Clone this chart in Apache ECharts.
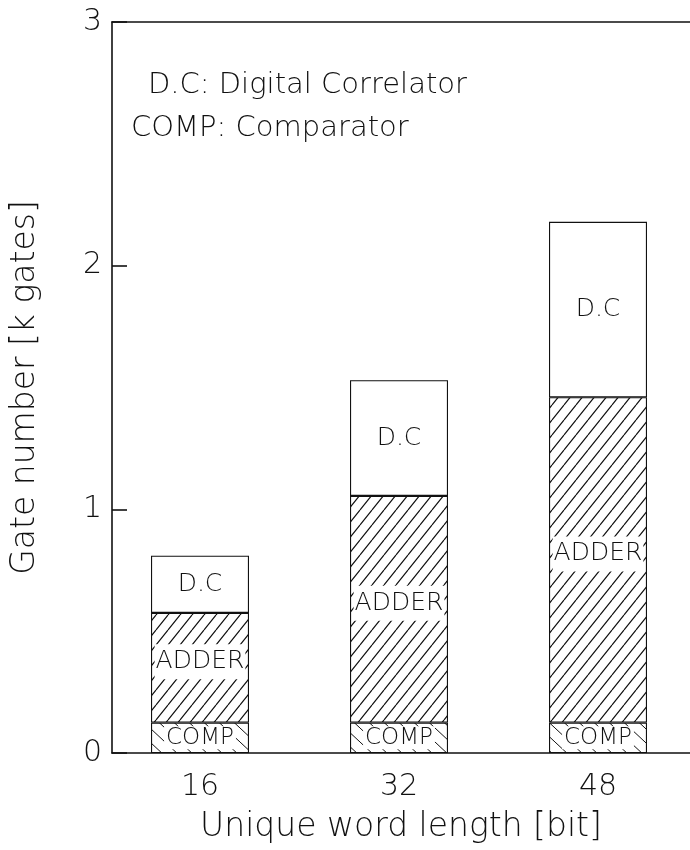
<!DOCTYPE html>
<html><head><meta charset="utf-8">
<script src="https://cdn.jsdelivr.net/npm/echarts@6/dist/echarts.min.js"></script>
<style>html,body{margin:0;padding:0;background:#fff}#c{width:690px;height:850px}</style>
</head><body><div id="c"></div>
<script>
const categories = ['16', '32', '48'];
const compValues = [0.125, 0.125, 0.125];
const adderValues = [0.45, 0.93, 1.335];
const dcValues = [0.235, 0.475, 0.72];
const yMin = 0, yMax = 3, yStep = 1;
const legendLine1 = 'D.C: Digital Correlator';
const legendLine2 = 'COMP: Comparator';
const segNames = ['COMP', 'ADDER', 'D.C'];
const xAxisName = 'Unique word length [bit]';
const yAxisName = 'Gate number [k gates]';

const FONT = "'DejaVu Sans', sans-serif";
const FW = 200;
const INK = '#111111';

function hatch(w, h, forward, lw) {
  const c = document.createElement('canvas');
  c.width = w; c.height = h;
  const g = c.getContext('2d');
  g.fillStyle = '#fff'; g.fillRect(0, 0, w, h);
  g.strokeStyle = INK; g.lineWidth = lw;
  g.beginPath();
  for (let k = -1; k <= 1; k++) {
    if (forward) { g.moveTo(k * w, h); g.lineTo(k * w + w, 0); }
    else { g.moveTo(k * w, 0); g.lineTo(k * w + w, h); }
  }
  g.stroke();
  return c;
}
const adderPattern = { image: hatch(12, 15, true, 1.2), repeat: 'repeat' };
const compPattern = { image: hatch(15, 14, false, 1.0), repeat: 'repeat' };

const labelBase = { show: true, position: 'inside', fontFamily: FONT, fontWeight: FW, fontSize: 25, color: INK };
function barSeries(name, data, fill, extraLabel) {
  return {
    type: 'bar', name: name, stack: 'gates', data: data, barWidth: 98,
    xAxisIndex: 0, yAxisIndex: 0,
    itemStyle: { color: fill, borderColor: INK, borderWidth: 1.1 },
    emphasis: { disabled: true },
    label: Object.assign({}, labelBase, { formatter: name }, extraLabel || {})
  };
}

const chart = echarts.init(document.getElementById('c'), null, { renderer: 'canvas' });
chart.setOption({
  animation: false,
  backgroundColor: '#fff',
  title: [
    { text: legendLine1, left: 143, top: 66, textStyle: { fontFamily: FONT, fontSize: 29, fontWeight: FW, color: INK } },
    { text: legendLine2, left: 126, top: 109, textStyle: { fontFamily: FONT, fontSize: 29, fontWeight: FW, color: INK } }
  ],
  grid: [
    { left: 100.5, width: 597, top: 22, bottom: 97, outerBoundsMode: 'none' },
    { left: 112, right: 0, top: 22, bottom: 97, outerBoundsMode: 'none' }
  ],
  xAxis: [{
    type: 'category', gridIndex: 0, data: categories,
    axisLine: { show: false }, axisTick: { show: false }, splitLine: { show: false },
    axisLabel: { fontFamily: FONT, fontWeight: FW, fontSize: 30, color: INK, margin: 19 }
  }, {
    type: 'value', gridIndex: 1, min: 0, max: 1, position: 'bottom',
    name: xAxisName, nameLocation: 'middle', nameGap: 58,
    nameTextStyle: { fontFamily: FONT, fontWeight: FW, fontSize: 33, color: INK },
    axisLine: { show: true, lineStyle: { color: INK, width: 1.6 } },
    axisTick: { show: false }, axisLabel: { show: false }, splitLine: { show: false }
  }, {
    type: 'value', gridIndex: 1, min: 0, max: 1, position: 'top',
    axisLine: { show: true, onZero: false, lineStyle: { color: INK, width: 1.6 } },
    axisTick: { show: false }, axisLabel: { show: false }, splitLine: { show: false }
  }],
  yAxis: [{
    type: 'value', gridIndex: 0, min: yMin, max: yMax, interval: yStep, show: false
  }, {
    type: 'value', gridIndex: 1, min: yMin, max: yMax, interval: yStep,
    name: yAxisName, nameLocation: 'middle', nameGap: 70, nameRotate: 90,
    nameTextStyle: { fontFamily: FONT, fontWeight: FW, fontSize: 33, color: INK },
    axisLine: { show: true, lineStyle: { color: INK, width: 1.6 } },
    axisTick: { show: true, inside: true, length: 15, lineStyle: { color: INK, width: 1.6 } },
    splitLine: { show: false },
    axisLabel: { fontFamily: FONT, fontWeight: FW, fontSize: 30, color: INK, margin: 10 }
  }],
  series: [
    barSeries(segNames[0], compValues, compPattern, { fontSize: 23, backgroundColor: '#fff', padding: [0, 2] }),
    barSeries(segNames[1], adderValues, adderPattern, { backgroundColor: '#fff', padding: [5, 1], offset: [0, -6] }),
    barSeries(segNames[2], dcValues, '#fff')
  ]
});
</script></body></html>
